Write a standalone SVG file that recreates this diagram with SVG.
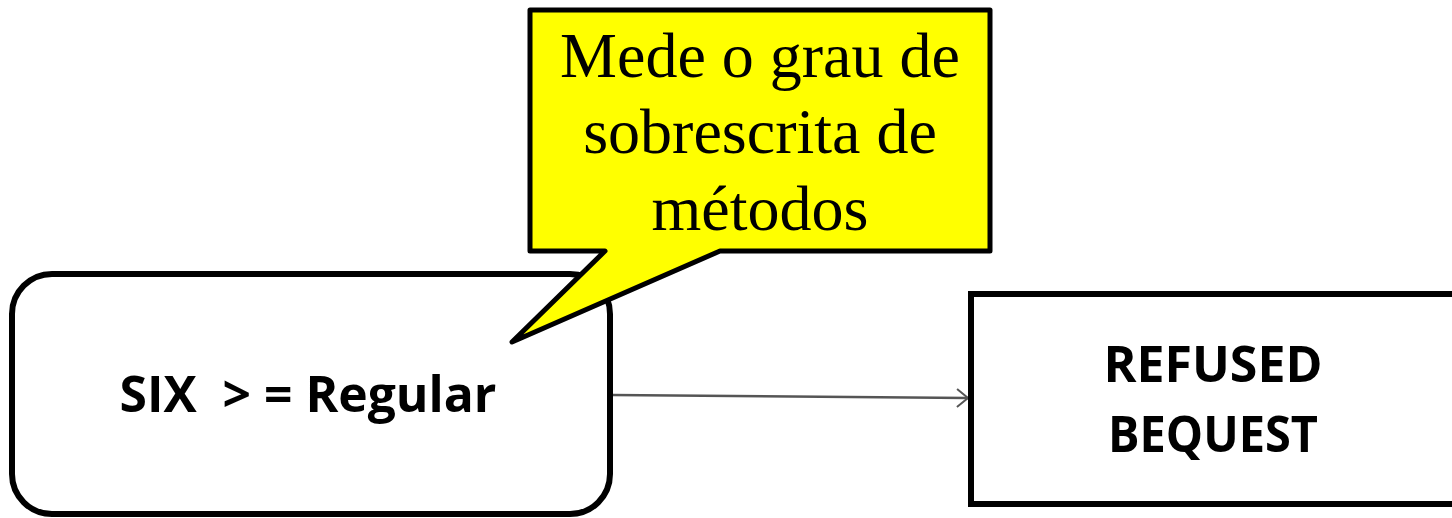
<svg xmlns="http://www.w3.org/2000/svg" width="1452" height="518" viewBox="0 0 1452 518">
<style>
.box{fill:#fff;stroke:#000;stroke-width:6}
.lbl{font-family:"Open Sans","Liberation Sans",sans-serif;font-weight:bold;font-size:50px;fill:#000}
.call{font-family:"Liberation Serif",serif;font-size:64px;fill:#000}
</style>
<defs>
<marker id="arr" markerWidth="14" markerHeight="20" refX="12" refY="10" orient="auto" markerUnits="userSpaceOnUse">
<path d="M1,1 L12,10 L1,19" fill="none" stroke="#555" stroke-width="2"/>
</marker>
</defs>
<rect width="1452" height="518" fill="#fff"/>
<g id="connectors">
<line x1="612" y1="395" x2="968" y2="398" stroke="#555" stroke-width="2.5" marker-end="url(#arr)"/>
</g>
<g id="node-six">
<rect class="box" x="12" y="274" width="598" height="240" rx="40" ry="40"/>
<text class="lbl" x="308" y="412" text-anchor="middle" textLength="377" lengthAdjust="spacingAndGlyphs" xml:space="preserve">SIX  &gt; = Regular</text>
</g>
<g id="node-refused">
<rect class="box" x="971" y="294" width="500" height="210" stroke-width="7"/>
<text class="lbl" x="1213" y="382" text-anchor="middle" textLength="219" lengthAdjust="spacingAndGlyphs">REFUSED</text>
<text class="lbl" x="1213" y="452" text-anchor="middle" textLength="210" lengthAdjust="spacingAndGlyphs">BEQUEST</text>
</g>
<g id="callout">
<path d="M530,10 L990,10 L990,251 L720,251 L512,342 L605,251 L530,251 Z" fill="#ffff00" stroke="#000" stroke-width="5" stroke-linejoin="round"/>
<text class="call" x="760" y="77" text-anchor="middle">Mede o grau de</text>
<text class="call" x="760" y="153" text-anchor="middle">sobrescrita de</text>
<text class="call" x="760" y="230" text-anchor="middle">métodos</text>
</g>
</svg>
